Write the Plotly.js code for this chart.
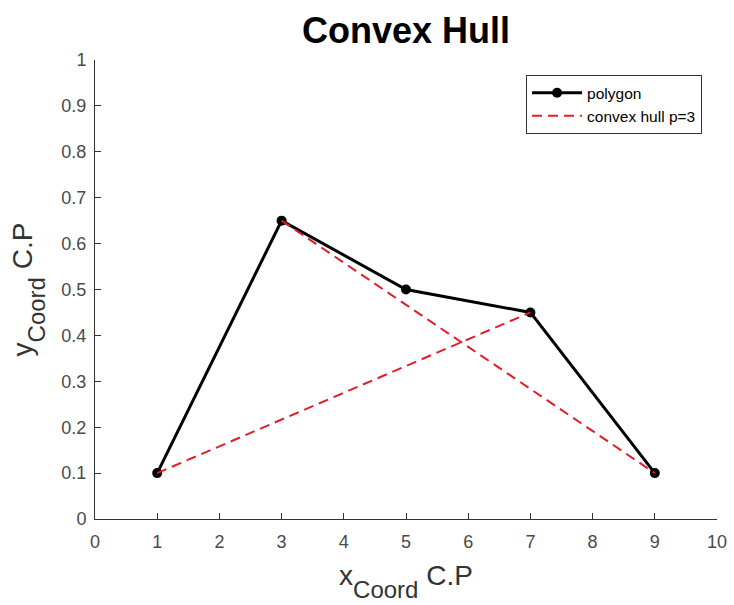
<!DOCTYPE html>
<html>
<head>
<meta charset="utf-8">
<script src="https://cdn.plot.ly/plotly-3.0.1.min.js"></script>
<style>html,body{margin:0;padding:0;background:#fff;}#chart{width:734px;height:605px;}</style>
</head>
<body>
<div id="chart"></div>
<script>
const polyX = [1, 3, 5, 7, 9];
const polyY = [0.1, 0.65, 0.5, 0.45, 0.1];
const hullX = [1, 7, null, 3, 9];
const hullY = [0.1, 0.45, null, 0.65, 0.1];
const xTicks = [0,1,2,3,4,5,6,7,8,9,10];
const yTicks = [0,0.1,0.2,0.3,0.4,0.5,0.6,0.7,0.8,0.9,1];

const FONT = "Liberation Sans, Arial, sans-serif";
const traces = [
  {x: polyX, y: polyY, mode: 'lines+markers', name: 'polygon',
   line: {color: '#000', width: 3}, marker: {color: '#000', size: 10}},
  {x: hullX, y: hullY, mode: 'lines', name: 'convex hull p=3', connectgaps: false,
   line: {color: 'rgb(225,30,40)', width: 2, dash: '10px,6px'}}
];
const axisCommon = {
  showgrid: false, zeroline: false, showline: true, linecolor: '#333', linewidth: 1,
  ticks: 'inside', ticklen: 6, tickcolor: '#333',
  tickfont: {family: FONT, size: 18, color: '#4a4a4a'}, mirror: false
};
const SUB = '<sub><span style="font-size:24px;baseline-shift:-7px">Coord</span></sub>';
const layout = {
  width: 734, height: 605,
  margin: {l: 95, r: 17, t: 60, b: 86},
  paper_bgcolor: '#fff', plot_bgcolor: '#fff',
  title: {text: '<b>Convex Hull</b>', font: {family: FONT, size: 36, color: '#000'},
          xref: 'paper', x: 0.5, xanchor: 'center', yref: 'container', y: 0.95, yanchor: 'middle'},
  xaxis: Object.assign({}, axisCommon, {range: [0, 10], tickvals: xTicks, ticklabelstandoff: 6,
    title: {text: 'x' + SUB + ' C.P', font: {family: FONT, size: 28, color: '#333'}, standoff: 14}}),
  yaxis: Object.assign({}, axisCommon, {range: [0, 1], tickvals: yTicks, ticklabelstandoff: 4,
    title: {text: 'y' + SUB + ' C.P', font: {family: FONT, size: 28, color: '#333'}, standoff: 20}}),
  showlegend: true,
  legend: {x: 0.976, y: 0.967, xanchor: 'right', yanchor: 'top',
    bgcolor: '#fff', bordercolor: '#333', borderwidth: 1, itemwidth: 50,
    font: {family: FONT, size: 15.5, color: '#000'}, tracegroupgap: 0}
};
Plotly.newPlot('chart', traces, layout, {staticPlot: true, displayModeBar: false});
</script>
</body>
</html>
